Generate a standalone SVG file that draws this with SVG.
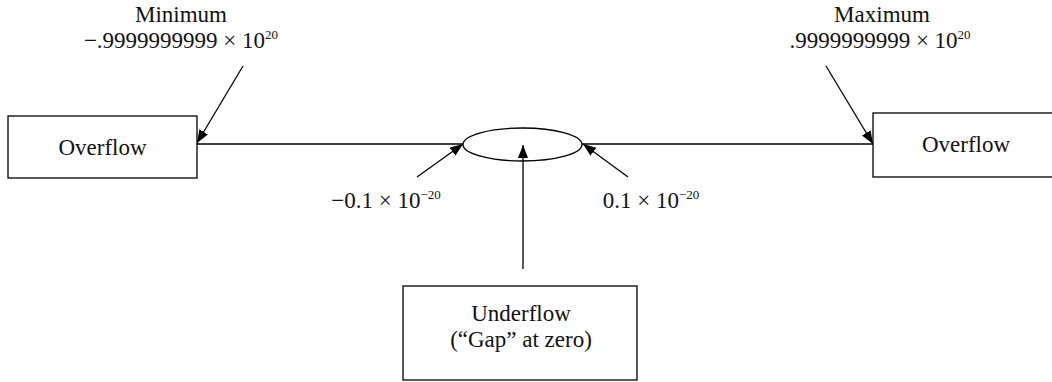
<svg xmlns="http://www.w3.org/2000/svg" width="1052" height="382" viewBox="0 0 1052 382">
<style>
.box{fill:#fff;stroke:#000;stroke-width:1.3}
.ln{fill:none;stroke:#000;stroke-width:1.3}
text{font-family:"Liberation Serif","Times New Roman",serif;font-size:23px;fill:#111}
.c{text-anchor:middle}
.sup{font-size:13px}
</style>
<defs>
<marker id="ah" markerUnits="userSpaceOnUse" markerWidth="14" markerHeight="12" refX="13" refY="5" orient="auto">
<path d="M0,0 L13,5 L0,10 z" fill="#000"/>
</marker>
</defs>
<rect width="1052" height="382" fill="#fff"/>
<g id="gap">
<ellipse class="box" cx="522.5" cy="144.5" rx="59.5" ry="16.5"/>
</g>
<g id="connectors">
<line class="ln" x1="197" y1="144" x2="463" y2="144"/>
<line class="ln" x1="582" y1="144" x2="873" y2="144"/>
<line class="ln" x1="243" y1="66" x2="197" y2="143" marker-end="url(#ah)"/>
<line class="ln" x1="826" y1="66" x2="873" y2="144" marker-end="url(#ah)"/>
<line class="ln" x1="417" y1="177" x2="463" y2="144" marker-end="url(#ah)"/>
<line class="ln" x1="628" y1="177" x2="583" y2="144" marker-end="url(#ah)"/>
<line class="ln" x1="523" y1="269" x2="523" y2="145" marker-end="url(#ah)"/>
</g>
<g id="overflow-left">
<rect class="box" x="8" y="116" width="189" height="62"/>
<text class="c" x="102.5" y="155">Overflow</text>
</g>
<g id="overflow-right">
<rect class="box" x="873" y="113" width="180" height="64"/>
<text class="c" x="966" y="152">Overflow</text>
</g>
<g id="underflow">
<rect class="box" x="403" y="286" width="234" height="94"/>
<text class="c" x="521" y="321">Underflow</text>
<text class="c" x="521" y="347">(“Gap” at zero)</text>
</g>
<g id="labels">
<text class="c" x="181" y="22">Minimum</text>
<text class="c" x="181" y="48">−.9999999999 × 10<tspan class="sup" dy="-9">20</tspan></text>
<text class="c" x="882" y="22">Maximum</text>
<text class="c" x="880" y="48">.9999999999 × 10<tspan class="sup" dy="-9">20</tspan></text>
<text class="c" x="386" y="208">−0.1 × 10<tspan class="sup" dy="-9">−20</tspan></text>
<text class="c" x="651" y="208">0.1 × 10<tspan class="sup" dy="-9">−20</tspan></text>
</g>
</svg>
